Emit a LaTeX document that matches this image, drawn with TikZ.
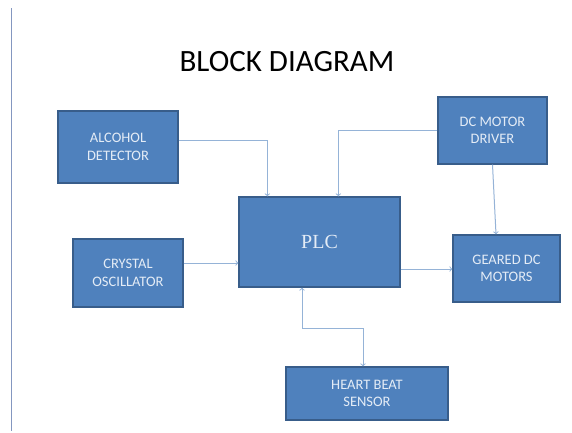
\documentclass[tikz,border=0pt]{standalone}
\usepackage{fontspec}
\setmainfont{Carlito}
\newfontfamily\plcfont{Liberation Serif}
\usepackage{tikz}
\usetikzlibrary{arrows}
\usetikzlibrary{positioning}
\definecolor{boxfill}{HTML}{4F81BD}
\definecolor{boxline}{HTML}{385D8A}
\definecolor{boxtext}{HTML}{E4ECF6}
\definecolor{linkcol}{HTML}{95B3D7}
\definecolor{rulecol}{HTML}{8497C0}
\tikzset{
	node_box/.style = {
		rectangle,
		align=center,
		inner sep=0pt,
		font=\fontsize{14.5}{17.5}\selectfont,
		text=boxtext,
		draw=boxline,
		fill=boxfill,
		line width=1.3pt
	},
	node_plc/.style = {
		node_box,
		font=\plcfont\fontsize{20}{24}\selectfont
	},
	node_title/.style = {
		font=\fontsize{31}{36}\selectfont,
		text=black
	},
	link/.style = {
		draw=linkcol,
		line width=1pt
	},
}

\begin{document}
\begin{tikzpicture}[x=1pt,y=-1pt,->,>=to]
\useasboundingbox (0,0) rectangle (572,432);
% margin rule
\draw [-,rulecol,line width=1.2pt] (11.5,8) -- (11.5,431);
\node [node_title] (title) at (287,62) {BLOCK DIAGRAM};
% blocks
\node [node_box, minimum width=120pt, minimum height=72pt] (alc) at (118,147) {ALCOHOL\\DETECTOR};
\node [node_box, minimum width=110pt, minimum height=68pt] (osc) at (128,273) {CRYSTAL\\OSCILLATOR};
\node [node_plc, minimum width=161pt, minimum height=90pt] (plc) at (319.5,242) {PLC};
\node [node_box, minimum width=109pt, minimum height=67pt] (drv) at (492.5,130.5) {DC MOTOR\\DRIVER};
\node [node_box, minimum width=107pt, minimum height=67pt] (mot) at (506.5,268.5) {GEARED DC\\MOTORS};
\node [node_box, minimum width=162pt, minimum height=53pt] (hb) at (367,393.5) {HEART BEAT\\SENSOR};
% connections
\draw [link] ([yshift=7pt]alc.east) -| ([xshift=29pt]plc.north west);
\draw [link] (drv.west) -| ([xshift=100pt]plc.north west);
\draw [link] (drv.south) -- ([xshift=-10.5pt]mot.north);
\coordinate (plcout) at ([yshift=-27pt]plc.east);
\draw [link] (plcout) -- (plcout -| mot.west);
\coordinate (oscout) at ([yshift=10pt]osc.east);
\draw [link] (oscout) -- (oscout -| plc.west);
\draw [link,<->] ([xshift=-17.5pt]plc.south) -- ++(0,-41pt) -| ([xshift=-4pt]hb.north);
\end{tikzpicture}
\end{document}
